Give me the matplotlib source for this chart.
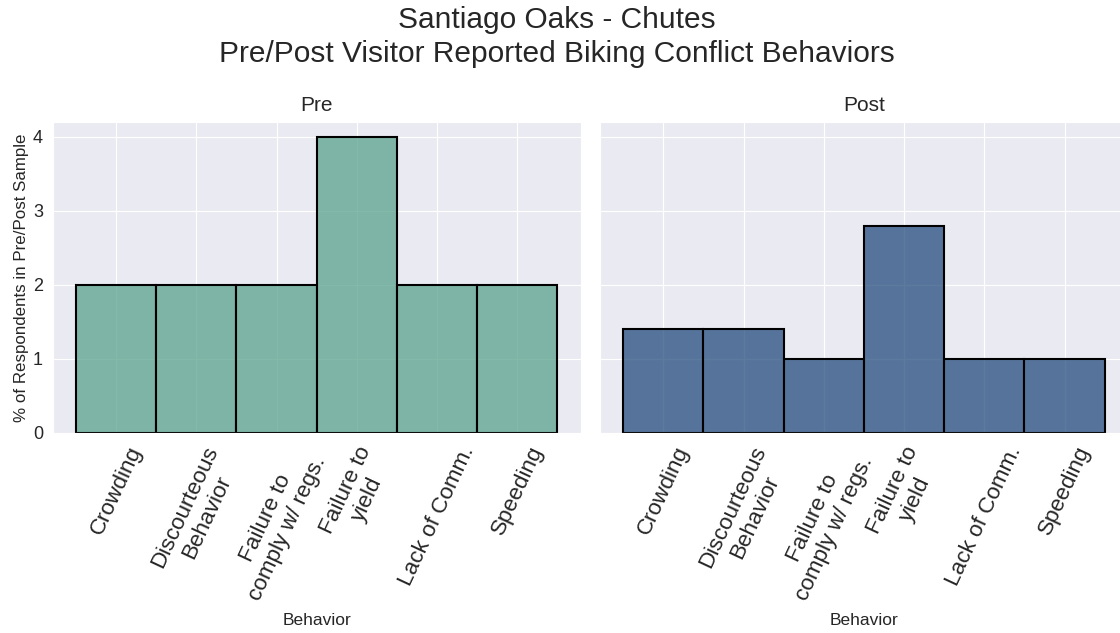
import matplotlib
matplotlib.use("Agg")
import matplotlib.pyplot as plt
import seaborn as sns
import numpy as np

sns.set_style("darkgrid")
plt.rcParams['font.family'] = ['Liberation Sans', 'DejaVu Sans']

behaviors = ["Crowding", "Discourteous\nBehavior", "Failure to\ncomply w/ regs.",
             "Failure to\nyield", "Lack of Comm.", "Speeding"]
pre_pct = [2, 2, 2, 4, 2, 2]
post_pct = [1.4, 1.4, 1.0, 2.8, 1.0, 1.0]

panels = [("Pre", pre_pct, (0.353, 0.635, 0.553)),
          ("Post", post_pct, (0.145, 0.302, 0.494))]

fig = plt.figure(figsize=(11.2, 6.33), dpi=100)
ax1 = fig.add_axes([0.047, 0.316, 0.4714, 0.4913])
ax2 = fig.add_axes([0.5357, 0.316, 0.4714, 0.4913], sharey=ax1)

x = np.arange(len(behaviors))
for ax, (name, vals, col) in zip([ax1, ax2], panels):
    ax.bar(x, vals, width=1.0, color=col + (0.75,), edgecolor="black",
           linewidth=1.5, zorder=2)
    ax.set_xlim(-0.79, 5.79)
    ax.set_xticks(x)
    ax.set_xticklabels(behaviors, rotation=65, fontsize=16.2)
    ax.set_title(name, fontsize=15, pad=8)
    ax.set_xlabel("Behavior", fontsize=12.5, labelpad=7)
    ax.tick_params(axis="y", labelsize=13)

ax1.set_ylim(0, 4.2)
ax1.set_yticks([0, 1, 2, 3, 4])
ax1.set_ylabel("% of Respondents in Pre/Post Sample", fontsize=12.2, labelpad=3)
plt.setp(ax2.get_yticklabels(), visible=False)

fig.suptitle("Santiago Oaks - Chutes\nPre/Post Visitor Reported Biking Conflict Behaviors",
             fontsize=21.5, y=0.99, x=0.497, linespacing=1.28)

fig.savefig("out.png", dpi=100)
